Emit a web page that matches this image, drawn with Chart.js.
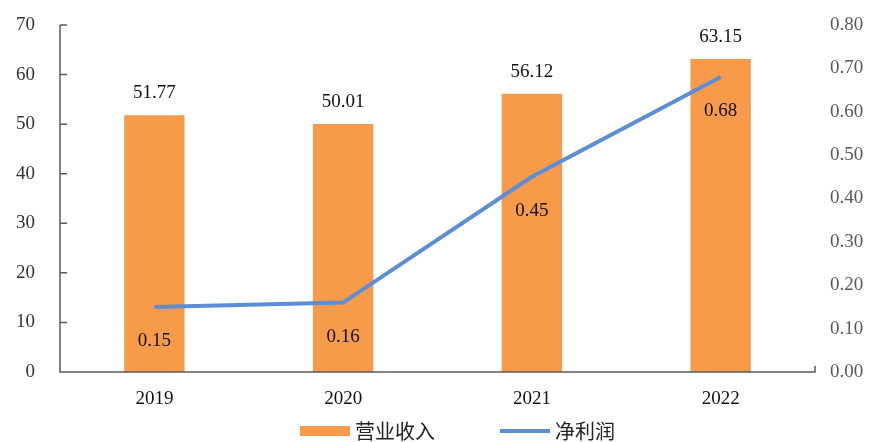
<!DOCTYPE html>
<html>
<head>
<meta charset="utf-8">
<script src="https://cdn.jsdelivr.net/npm/chart.js@4.4.1/dist/chart.umd.min.js"></script>
<style>
  html, body { margin: 0; padding: 0; background: #fff; }
  #wrap { width: 878px; height: 442px; }
</style>
</head>
<body>
<div id="wrap"><canvas id="c"></canvas></div>
<script>
// chart data
const years = ['2019', '2020', '2021', '2022'];
const revenue = [51.77, 50.01, 56.12, 63.15];
const netProfit = [0.15, 0.16, 0.45, 0.68];
const revenueLabel = '营业收入';
const profitLabel = '净利润';

const serif = '"Liberation Serif", "Times New Roman", serif';
const cjk = '"Noto Sans CJK SC", sans-serif';
const orange = '#F79A4A';
const blue = '#5B8ED6';

// draw small inward ticks on the left axis and the end tick on the x axis
const axisMarks = {
    id: 'axisMarks',
    afterDraw(chart) {
        const ctx = chart.ctx;
        const y = chart.scales.y;
        const area = chart.chartArea;
        ctx.save();
        ctx.strokeStyle = '#595959';
        ctx.lineWidth = 1.5;
        ctx.beginPath();
        ctx.moveTo(area.left, area.top);
        ctx.lineTo(area.left, area.bottom);
        ctx.lineTo(area.right, area.bottom);
        ctx.lineTo(area.right, area.bottom - 6);
        y.ticks.forEach(t => {
            const py = y.getPixelForValue(t.value);
            ctx.moveTo(area.left, py);
            ctx.lineTo(area.left + 7, py);
        });
        ctx.stroke();
        ctx.restore();
    }
};

// value labels: above bars, below line points
const valueLabels = {
    id: 'valueLabels',
    afterDatasetsDraw(chart) {
        const ctx = chart.ctx;
        ctx.save();
        ctx.font = '19px ' + serif;
        ctx.fillStyle = '#111';
        ctx.textAlign = 'center';
        ctx.textBaseline = 'middle';
        chart.getDatasetMeta(0).data.forEach((el, i) => {
            ctx.fillText(revenue[i].toFixed(2), el.x, el.y - 22);
        });
        chart.getDatasetMeta(1).data.forEach((el, i) => {
            ctx.fillText(netProfit[i].toFixed(2), el.x, el.y + 34);
        });
        ctx.restore();
    }
};

// legend drawn by hand so the spacing matches
const bottomLegend = {
    id: 'bottomLegend',
    afterDraw(chart) {
        const ctx = chart.ctx;
        const ly = 431;
        ctx.save();
        ctx.font = '20px ' + cjk;
        ctx.textBaseline = 'middle';
        ctx.fillStyle = orange;
        ctx.fillRect(300, ly - 5, 50, 10);
        ctx.fillStyle = '#222';
        ctx.fillText(revenueLabel, 355, ly);
        ctx.strokeStyle = blue;
        ctx.lineWidth = 4;
        ctx.beginPath();
        ctx.moveTo(500, ly);
        ctx.lineTo(550, ly);
        ctx.stroke();
        ctx.fillText(profitLabel, 555, ly);
        ctx.restore();
    }
};

const noEdgePad = (scale) => { scale.paddingTop = 0; scale.paddingBottom = 0; };

new Chart(document.getElementById('c'), {
    data: {
        labels: years,
        datasets: [
            {
                type: 'bar',
                label: revenueLabel,
                data: revenue,
                backgroundColor: orange,
                yAxisID: 'y',
                barPercentage: 0.64,
                categoryPercentage: 0.5,
                order: 2
            },
            {
                type: 'line',
                label: profitLabel,
                data: netProfit,
                borderColor: blue,
                backgroundColor: blue,
                borderWidth: 4,
                pointRadius: 0,
                tension: 0,
                yAxisID: 'y1',
                order: 1
            }
        ]
    },
    options: {
        responsive: true,
        maintainAspectRatio: false,
        animation: false,
        layout: { padding: { top: 25, left: 0, right: 0, bottom: 31 } },
        plugins: {
            tooltip: { enabled: false },
            legend: { display: false }
        },
        scales: {
            x: {
                grid: { display: false, drawTicks: false },
                border: { display: false },
                ticks: { font: { family: serif, size: 19 }, color: '#111', padding: 16 },
                afterFit(scale) { scale.height = 39; scale.paddingLeft = 0; scale.paddingRight = 0; }
            },
            y: {
                position: 'left',
                min: 0,
                max: 70,
                grid: { display: false, drawTicks: false },
                border: { display: false },
                ticks: { stepSize: 10, font: { family: serif, size: 19 }, color: '#333', padding: 25 },
                afterFit(scale) { scale.width = 60; noEdgePad(scale); }
            },
            y1: {
                position: 'right',
                min: 0,
                max: 0.8,
                grid: { display: false, drawTicks: false },
                border: { display: false },
                ticks: {
                    stepSize: 0.1,
                    font: { family: serif, size: 19 },
                    color: '#595959',
                    padding: 15,
                    callback: v => v.toFixed(2)
                },
                afterFit(scale) { scale.width = 63; noEdgePad(scale); }
            }
        }
    },
    plugins: [axisMarks, valueLabels, bottomLegend]
});
</script>
</body>
</html>
